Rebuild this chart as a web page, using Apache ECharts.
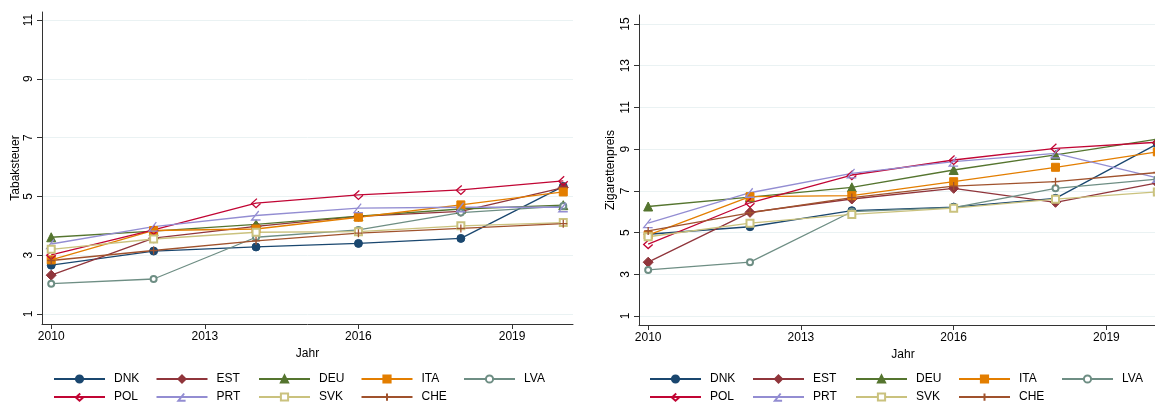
<!DOCTYPE html>
<html><head><meta charset="utf-8">
<script src="https://cdn.jsdelivr.net/npm/echarts@6/dist/echarts.min.js"></script>
<style>html,body{margin:0;padding:0;background:#fff;overflow:hidden}html{width:1155px}#c{width:1170px;height:403px}</style>
</head><body><div id="c"></div>
<script>
// ---- data ----
const years = [2010, 2012, 2014, 2016, 2018, 2020];
const countries = ['DNK', 'EST', 'DEU', 'ITA', 'LVA', 'POL', 'PRT', 'SVK', 'CHE'];
const xTickLabels = [2010, 2013, 2016, 2019];
const yTicksTax = [1, 3, 5, 7, 9, 11];
const yTicksPrice = [1, 3, 5, 7, 9, 11, 13, 15];

// Tabaksteuer
const taxDNK = [2.66, 3.14, 3.28, 3.40, 3.57, 5.34];
const taxEST = [2.32, 3.58, 3.98, 4.32, 4.49, 5.30];
const taxDEU = [3.61, 3.82, 4.05, 4.33, 4.57, 4.70];
const taxITA = [2.84, 3.84, 3.89, 4.29, 4.71, 5.15];
const taxLVA = [2.03, 2.19, 3.61, 3.86, 4.45, 4.67];
const taxPOL = [3.01, 3.86, 4.77, 5.05, 5.22, 5.53];
const taxPRT = [3.38, 3.97, 4.35, 4.60, 4.63, 4.63];
const taxSVK = [3.20, 3.55, 3.78, 3.80, 4.00, 4.11];
const taxCHE = [2.82, 3.16, 3.49, 3.75, 3.91, 4.07];

// Zigarettenpreis
const priceDNK = [4.92, 5.28, 6.05, 6.22, 6.64, 9.25];
const priceEST = [3.58, 5.97, 6.61, 7.12, 6.45, 7.38];
const priceDEU = [6.25, 6.70, 7.17, 8.00, 8.72, 9.48];
const priceITA = [4.88, 6.72, 6.77, 7.44, 8.13, 8.87];
const priceLVA = [3.21, 3.58, 6.00, 6.20, 7.12, 7.56];
const pricePOL = [4.45, 6.43, 7.76, 8.48, 9.04, 9.33];
const pricePRT = [5.45, 6.91, 7.84, 8.40, 8.80, 7.62];
const priceSVK = [4.80, 5.45, 5.87, 6.17, 6.60, 6.95];
const priceCHE = [5.08, 5.95, 6.68, 7.23, 7.44, 7.88];

const taxData = [taxDNK, taxEST, taxDEU, taxITA, taxLVA, taxPOL, taxPRT, taxSVK, taxCHE];
const priceData = [priceDNK, priceEST, priceDEU, priceITA, priceLVA, pricePOL, pricePRT, priceSVK, priceCHE];

// ---- styles ----
const colors = ['#1a476f', '#90353b', '#55752f', '#e37e00', '#6e8e84', '#c10534', '#938dd2', '#cac27e', '#a0522d'];
const symbols = [
  {symbol: 'circle', size: 8, hollow: false},
  {symbol: 'diamond', size: 10, hollow: false},
  {symbol: 'triangle', size: 9, hollow: false},
  {symbol: 'rect', size: 8, hollow: false},
  {symbol: 'emptyCircle', size: 6, hollow: false},
  {symbol: 'path://M6,0 L0,6 L5,11 L10,6', size: 9, hollow: true},
  {symbol: 'path://M8,0 L0,10 L10,10', size: 9, hollow: true},
  {symbol: 'emptyRect', size: 7, hollow: false},
  {symbol: 'path://M5,0 L5,10 M0,5 L10,5', size: 8, hollow: true}
];
const FONT = 'Liberation Sans, Arial, sans-serif';
const axisColor = '#333';
const gridColor = '#eaf2f3';

function makeSeries(dataArr, xi) {
  return countries.map((name, i) => {
    const s = symbols[i];
    return {
      name: name,
      type: 'line',
      xAxisIndex: xi, yAxisIndex: xi,
      data: years.map((y, k) => [y, dataArr[i][k]]),
      symbol: s.symbol,
      symbolSize: s.size,
      showAllSymbol: true,
      animation: false,
      lineStyle: {color: colors[i], width: 1.3},
      itemStyle: s.hollow ? {color: 'none', borderColor: colors[i], borderWidth: 1.3} : {color: colors[i], borderColor: colors[i], borderWidth: 1},
      emphasis: {disabled: true}
    };
  });
}

function xAxis(gi) {
  return {
    type: 'value', gridIndex: gi, min: 2009.82, max: 2020.19,
    name: 'Jahr', nameLocation: 'middle', nameGap: 18,
    nameTextStyle: {fontFamily: FONT, fontSize: 12, color: '#000'},
    axisLine: {show: true, onZero: false, lineStyle: {color: axisColor, width: 1}},
    axisTick: {show: true, length: 5, customValues: xTickLabels, lineStyle: {color: axisColor}},
    axisLabel: {customValues: xTickLabels, fontFamily: FONT, fontSize: 12, color: '#000', margin: 7, formatter: v => String(v)},
    splitLine: {show: false}
  };
}
function yAxis(gi, min, max, ticks, grids, name, gap) {
  return {
    type: 'value', gridIndex: gi, min: min, max: max,
    name: name, nameLocation: 'middle', nameGap: gap, nameRotate: 90,
    nameTextStyle: {fontFamily: FONT, fontSize: 12, color: '#000'},
    axisLine: {show: true, lineStyle: {color: axisColor, width: 1}},
    axisTick: {show: true, length: 5, customValues: ticks, lineStyle: {color: axisColor}},
    axisLabel: {customValues: ticks, rotate: 90, fontFamily: FONT, fontSize: 12, color: '#000', margin: 7},
    splitLine: {show: true, customValues: grids, lineStyle: {color: gridColor, width: 1}}
  };
}

function legendItem(left, top, name) {
  return {
    left: left, top: top, orient: 'horizontal', padding: 0,
    data: [name], itemWidth: 51, itemHeight: 9,
    selectedMode: false,
    textStyle: {fontFamily: FONT, fontSize: 12, color: '#000', padding: [0, 0, 0, 4]}
  };
}
const legends = [];
countries.forEach((name, i) => {
  const col = i % 5, row = Math.floor(i / 5);
  const top = row === 0 ? 373 : 391;
  legends.push(legendItem(53 + col * 102.5, top, name));
  legends.push(legendItem(649 + col * 103, top, name));
});

const chart = echarts.init(document.getElementById('c'), null, {renderer: 'canvas'});
chart.setOption({
  animation: false,
  backgroundColor: '#fff',
  grid: [
    {left: 42, width: 531, top: 12, height: 312, containLabel: false},
    {left: 639, width: 528, top: 15, height: 310, containLabel: false}
  ],
  xAxis: [xAxis(0), xAxis(1)],
  yAxis: [
    yAxis(0, 0.66, 11.27, yTicksTax, [1, 3, 5, 7, 9], 'Tabaksteuer', 20),
    yAxis(1, 0.57, 15.43, yTicksPrice, [3, 5, 7, 9, 11, 13], 'Zigarettenpreis', 22)
  ],
  legend: legends,
  series: makeSeries(taxData, 0).concat(makeSeries(priceData, 1))
});
</script>
</body></html>
